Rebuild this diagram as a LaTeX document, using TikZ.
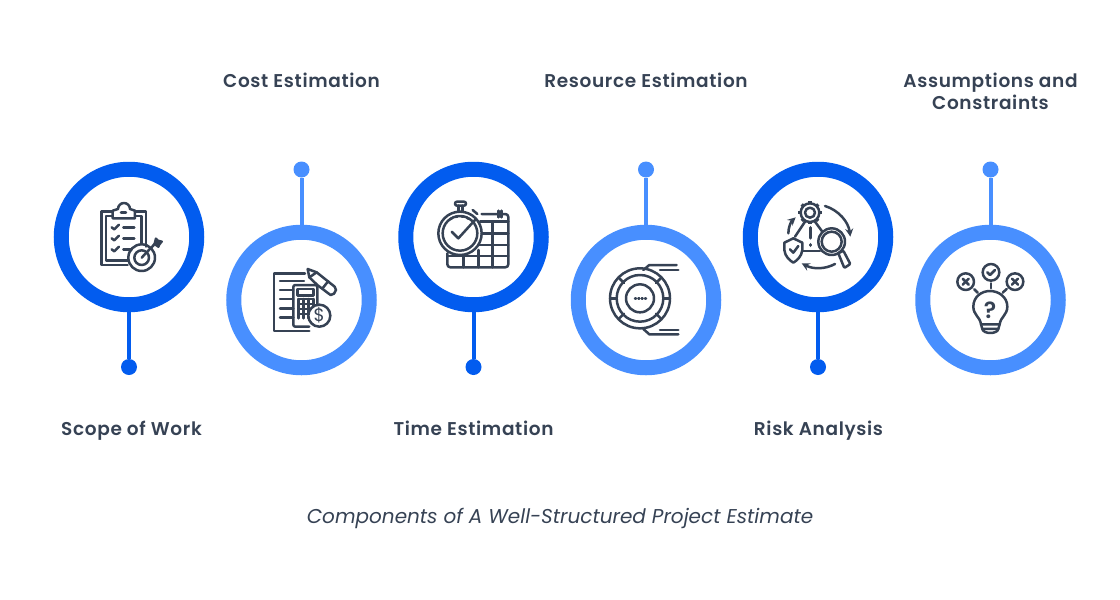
\documentclass[tikz,border=0pt]{standalone}
\usepackage{fontspec}
\usepackage{tikz}
\setmainfont{Poppins}
\newfontfamily\headfont{Poppins SemiBold}[LetterSpace=3.5]
\definecolor{darkblue}{HTML}{025CEF}
\definecolor{lightblue}{HTML}{488FFF}
\definecolor{inkgray}{HTML}{364254}

\begin{document}
\begin{tikzpicture}[
                    x=1pt,
                    y=-1pt,
                    node distance=130pt,
                    ring/.style={
                        circle,
                        draw,
                        minimum size=135.5pt,
                        inner sep=0pt,
                        line width=15pt
                    },
                    dot/.style={
                        circle,
                        fill,
                        minimum size=16pt,
                        inner sep=0pt
                    },
                    title/.style={
                        text=inkgray,
                        align=center,
                        anchor=base,
                        font=\fontsize{18.5}{22}\headfont
                    },
                    link/.style={line width=4pt},
                    icon/.style 2 args={
                        shift={(#1,#2)},
                        x=0.3333pt,
                        y=-0.3333pt,
                        draw=inkgray,
                        line width=2.5pt,
                        line join=round,
                        line cap=round
                    }
                ]
                    \useasboundingbox (0,0) rectangle (1120,600);

                    \node[ring, darkblue] (scope) at (129,237) {};
                    \node[ring, lightblue] (cost) at (301.5,300) {};
                    \node[ring, darkblue] (time) at (473.5,237) {};
                    \node[ring, lightblue] (resource) at (646,300) {};
                    \node[ring, darkblue] (risk) at (818,237) {};
                    \node[ring, lightblue] (assume) at (990.5,300) {};

                    \node[dot, darkblue] (d1) [below of=scope] {};
                    \node[dot, lightblue] (d2) [above of=cost, node distance=130.5pt] {};
                    \node[dot, darkblue] (d3) [below of=time] {};
                    \node[dot, lightblue] (d4) [above of=resource, node distance=130.5pt] {};
                    \node[dot, darkblue] (d5) [below of=risk] {};
                    \node[dot, lightblue] (d6) [above of=assume, node distance=130.5pt] {};

                    % Edges
                    \draw[link, darkblue] (scope) -- (d1);
                    \draw[link, lightblue] (cost) -- (d2);
                    \draw[link, darkblue] (time) -- (d3);
                    \draw[link, lightblue] (resource) -- (d4);
                    \draw[link, darkblue] (risk) -- (d5);
                    \draw[link, lightblue] (assume) -- (d6);

                    % Labels
                    \node[title] (t1) at (131.5,435) {Scope of Work};
                    \node[title] (t2) at (301.5,87) {Cost Estimation};
                    \node[title] (t3) at (473.5,435) {Time Estimation};
                    \node[title] (t4) at (646,87) {Resource Estimation};
                    \node[title] (t5) at (818.5,435) {Risk Analysis};
                    \node[title, anchor=north] (t6) at (990.5,69) {Assumptions and\\Constraints};
                    \node[text=inkgray, anchor=base, font=\fontsize{20}{24}\selectfont\itshape] (caption) at (560,523) {Components of A Well-Structured Project Estimate};

                    % Scope icon
                    \begin{scope}[icon={80}{190}]
                        \draw (98,65) -- (65,65) -- (65,225) -- (143,225);
                        \draw (165,65) -- (198,65) -- (198,170);
                        \draw (98,78) -- (78,78) -- (78,212) -- (143,212);
                        \draw (165,78) -- (185,78) -- (185,160);
                        \draw (98,62) -- (98,85) -- (165,85) -- (165,62) -- (150,57) arc (0:-180:18) -- cycle;
                        \draw (123,68) -- (138,68);
                        \draw (95,112) -- (103,118) -- (117,104);
                        \draw (130,112) -- (163,112);
                        \draw (95,145) -- (103,151) -- (117,137);
                        \draw (130,145) -- (163,145);
                        \draw (95,178) -- (103,184) -- (117,170);
                        \draw (130,178) -- (155,178);
                        \draw (185,203) circle (40);
                        \draw (185,203) circle (22);
                        \draw (185,203) -- (226,160);
                        \draw[fill=inkgray] (228,146) -- (233,152) -- (245,155) -- (238,163) -- (235,170) -- (224,162) -- cycle;
                    \end{scope}

                    % Cost icon
                    \begin{scope}[icon={260}{255}]
                        \draw (135,55) -- (42,55) -- (42,228) -- (148,228);
                        \draw (60,78) -- (132,78);
                        \draw (60,105) -- (100,105);
                        \draw (60,132) -- (100,132);
                        \draw (60,160) -- (100,160);
                        \draw (60,188) -- (100,188);
                        \draw[rounded corners=2pt] (148,215) -- (100,215) -- (100,90) -- (172,90) -- (172,150);
                        \draw (112,102) rectangle (160,122);
                        \foreach \x in {115,130,145,160} \draw (\x,132) -- (\x,190);
                        \foreach \y in {132,147,162,177} \draw (115,\y) -- (160,\y);
                        \draw[fill=white] (178,182) circle (33);
                        \node[inner sep=0pt, text=inkgray, font=\fontsize{18}{18}\selectfont] (dollar) at (178,182) {\$};
                        \draw (172,90) -- (148,67) -- (143,42) -- (170,52) -- (224,95) -- (228,105) -- (222,116) -- (212,120) -- (205,115) -- (172,90);
                        \draw (148,67) -- (170,52);
                        \draw (205,78) -- (187,101);
                    \end{scope}

                    % Time icon
                    \begin{scope}[icon={430}{190}]
                        \draw (90,130) circle (65);
                        \draw (90,130) circle (52);
                        \draw[rounded corners=2pt] (75,35) rectangle (108,47);
                        \draw (85,47) -- (85,64);
                        \draw (97,47) -- (97,64);
                        \draw (128,60) -- (142,72);
                        \draw[dash pattern=on 2pt off 4pt] (60,88) arc (-125:-55:52);
                        \draw (65,125) -- (85,145) -- (135,90);
                        \draw[rounded corners=3pt] (155,72) -- (235,72) -- (235,232) -- (52,232) -- (52,190);
                        \draw (205,62) -- (205,82);
                        \draw (215,62) -- (215,82);
                        \draw (150,95) -- (235,95);
                        \draw (155,130) -- (235,130);
                        \draw (148,165) -- (235,165);
                        \draw (52,198) -- (235,198);
                        \draw (100,198) -- (100,232);
                        \draw (145,180) -- (145,232);
                        \draw (188,95) -- (188,232);
                    \end{scope}

                    % Resource icon
                    \begin{scope}[icon={600}{255}]
                        \draw (120,130) circle (90);
                        \draw (120,130) circle (70);
                        \draw (120,130) circle (42);
                        \draw (58,70) -- (72,84);
                        \draw (30,130) -- (50,130);
                        \draw (190,130) -- (210,130);
                        \draw (58,190) -- (72,176);
                        \draw (182,70) -- (168,84);
                        \draw (182,190) -- (168,176);
                        \foreach \x in {105,115,125,135} \draw (\x,131) -- (\x+3,131);
                        \draw (130,45) -- (148,30) -- (230,30);
                        \draw (180,45) -- (235,45);
                        \draw (130,222) -- (148,238) -- (235,238);
                        \draw (180,225) -- (235,225);
                    \end{scope}

                    % Risk icon
                    \begin{scope}[icon={775}{190}]
                        \draw (105,68) circle (15);
                        \draw (105,68) circle (28);
                        \foreach \a in {0,45,...,315} \draw[line width=3.4pt, line cap=butt] (105,68) ++(\a:28) -- ++(\a:7);
                        \draw (90,95) -- (60,140);
                        \draw (120,95) -- (142,125);
                        \draw (82,183) -- (135,183);
                        \draw[line width=3.4pt] (107,113) -- (107,144);
                        \draw[line width=3.4pt] (107,164) -- (107,166);
                        \draw (170,155) circle (40);
                        \draw (170,155) circle (30);
                        \draw[rounded corners=1pt] (190,190) -- (205,182) -- (226,222) -- (208,234) -- cycle;
                        \draw (55,145) -- (28,158) -- (28,180) .. controls (30,200) and (45,212) .. (55,218) .. controls (65,212) and (80,200) .. (82,180) -- (82,158) -- cycle;
                        \draw (45,178) -- (55,188) -- (70,168);
                        \draw[-stealth] (150,48) .. controls (190,60) and (220,95) .. (226,140);
                        \draw[-stealth] (180,222) .. controls (150,238) and (115,238) .. (80,220);
                        \draw[-stealth] (40,130) .. controls (40,112) and (48,95) .. (62,82);
                    \end{scope}

                    % Assumptions icon
                    \begin{scope}[icon={945}{255}]
                        \draw (138,52) circle (25);
                        \draw (62,80) circle (25);
                        \draw (210,80) circle (25);
                        \draw (127,52) -- (135,60) -- (150,45);
                        \draw (53,71) -- (71,89);
                        \draw (71,71) -- (53,89);
                        \draw (201,71) -- (219,89);
                        \draw (219,71) -- (201,89);
                        \draw (138,85) -- (138,100);
                        \draw (88,103) -- (98,113);
                        \draw (185,102) -- (173,113);
                        \draw (108,208) .. controls (105,185) and (85,180) .. (85,155) .. controls (85,125) and (110,108) .. (135,108) .. controls (160,108) and (187,125) .. (187,155) .. controls (187,180) and (167,185) .. (164,208) -- cycle;
                        \draw (108,208) -- (112,222) -- (160,222) -- (164,208);
                        \draw (112,222) .. controls (115,238) and (157,238) .. (160,222);
                        \node[inner sep=0pt, text=inkgray, font=\fontsize{23}{23}\headfont] (mark) at (135,165) {?};
                    \end{scope}
                \end{tikzpicture}
\end{document}
